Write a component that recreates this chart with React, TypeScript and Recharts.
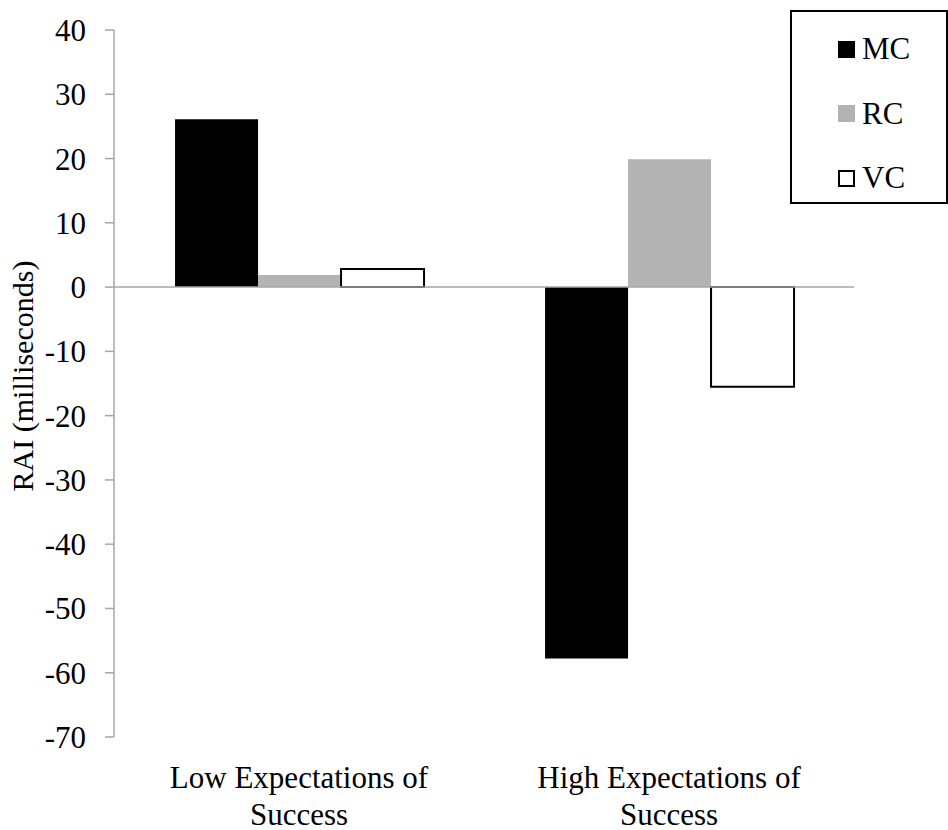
import React from 'react';
import { BarChart, Bar, XAxis, YAxis, ReferenceLine, Legend } from 'recharts';

const categories = ['Low Expectations of Success', 'High Expectations of Success'];
const categoryLines = [
  ['Low Expectations of', 'Success'],
  ['High Expectations of', 'Success'],
];
const mcValues = [26.1, -57.8];
const rcValues = [1.9, 19.9];
const vcValues = [2.8, -15.5];
const yTicks = [40, 30, 20, 10, 0, -10, -20, -30, -40, -50, -60, -70];

const seriesNames = ['MC', 'RC', 'VC'];

const data = categories.map((c, i) => ({
  category: c,
  lines: categoryLines[i],
  MC: mcValues[i],
  RC: rcValues[i],
  VC: vcValues[i],
}));

const FONT = "'Liberation Serif', 'Times New Roman', serif";
const AXIS_GREY = '#a6a6a6';

const XTick = (props: any) => {
  const { x, y, payload, index } = props;
  const lines = categoryLines[index] || [payload.value];
  return (
    <text x={x} y={y} textAnchor="middle" fontFamily={FONT} fontSize={31} fill="#000">
      {lines.map((l: string, i: number) => (
        <tspan key={i} x={x} dy={i === 0 ? 43 : 37}>
          {l}
        </tspan>
      ))}
    </text>
  );
};

const LegendBox = (props: any) => {
  const payload = props.payload || [];
  const swatch = (name: string) => {
    if (name === 'MC') return { background: '#000', border: '1px solid #000' };
    if (name === 'RC') return { background: '#b3b3b3', border: '1px solid #b3b3b3' };
    return { background: '#fff', border: '2px solid #000' };
  };
  return (
    <div
      style={{
        width: 158,
        height: 194,
        boxSizing: 'border-box',
        border: '2px solid #000',
        background: '#fff',
        position: 'relative',
      }}
    >
      {payload.map((p: any, i: number) => (
        <div
          key={p.value}
          style={{
            position: 'absolute',
            left: 46,
            top: 37 + i * 64.5 - 18,
            height: 36,
            display: 'flex',
            alignItems: 'center',
            fontFamily: FONT,
            fontSize: 31,
            color: '#000',
          }}
        >
          <span
            style={{
              display: 'inline-block',
              width: 17,
              height: 17,
              boxSizing: 'border-box',
              marginRight: 7,
              ...swatch(p.value),
            }}
          />
          <span>{p.value}</span>
        </div>
      ))}
    </div>
  );
};

export default function App() {
  return (
    <div style={{ position: 'absolute', left: 0, top: 0, width: 948, height: 830, background: '#fff' }}>
      <BarChart
        width={948}
        height={830}
        data={data}
        margin={{ top: 30, right: 94, left: 0, bottom: 0 }}
        barCategoryGap="16.5%"
        barGap={0}
      >
        <XAxis
          dataKey="category"
          axisLine={false}
          tickLine={false}
          height={93}
          tick={<XTick />}
          interval={0}
        />
        <YAxis
          width={114}
          domain={[-70, 40]}
          ticks={yTicks}
          interval={0}
          tickSize={9}
          tickMargin={19}
          axisLine={{ stroke: AXIS_GREY, strokeWidth: 1.5 }}
          tickLine={{ stroke: AXIS_GREY, strokeWidth: 1.5 }}
          tick={{ fontFamily: FONT, fontSize: 31, fill: '#000' }}
          label={{
            content: () => (
              <text
                x={22}
                y={376}
                transform="rotate(-90, 22, 376)"
                textAnchor="middle"
                dominantBaseline="central"
                fontFamily={FONT}
                fontSize={30}
                fill="#000"
              >
                RAI (milliseconds)
              </text>
            ),
          }}
        />
        <Bar dataKey="MC" name={seriesNames[0]} fill="#000" isAnimationActive={false} />
        <Bar dataKey="RC" name={seriesNames[1]} fill="#b3b3b3" isAnimationActive={false} />
        <Bar dataKey="VC" name={seriesNames[2]} fill="#fff" stroke="#000" strokeWidth={2} isAnimationActive={false} />
        <ReferenceLine y={0} stroke={AXIS_GREY} strokeWidth={1.5} ifOverflow="extendDomain" />
        <Legend
          layout="vertical"
          align="center"
          verticalAlign="middle"
          content={<LegendBox />}
          wrapperStyle={{ position: 'absolute', left: 790, top: 10, width: 158, height: 194 }}
        />
      </BarChart>
    </div>
  );
}
